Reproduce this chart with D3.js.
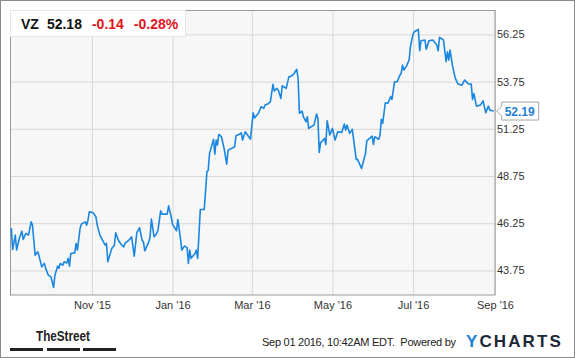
<!DOCTYPE html>
<html>
<head>
<meta charset="utf-8">
<script src="https://cdn.jsdelivr.net/npm/d3@7"></script>
<style>
  body { margin: 0; background: #fff; }
  svg { display: block; font-family: "Liberation Sans", Arial, sans-serif; }
</style>
</head>
<body>
<svg id="chart" width="575" height="358"></svg>
<script>
const dates = [
  '2015-09-01','2015-09-02','2015-09-04','2015-09-05','2015-09-07','2015-09-09','2015-09-10','2015-09-12',
  '2015-09-14','2015-09-16','2015-09-17','2015-09-19','2015-09-21','2015-09-22','2015-09-24','2015-09-26',
  '2015-09-27','2015-09-29','2015-10-01','2015-10-03','2015-10-04','2015-10-06','2015-10-07','2015-10-08',
  '2015-10-10','2015-10-11','2015-10-13','2015-10-14','2015-10-15','2015-10-16','2015-10-19','2015-10-20',
  '2015-10-21','2015-10-23','2015-10-24','2015-10-27','2015-10-28','2015-10-29','2015-10-30','2015-11-02',
  '2015-11-04','2015-11-05','2015-11-07','2015-11-09','2015-11-11','2015-11-12','2015-11-13','2015-11-16',
  '2015-11-18','2015-11-19','2015-11-21','2015-11-23','2015-11-25','2015-11-26','2015-11-29','2015-12-01',
  '2015-12-03','2015-12-05','2015-12-07','2015-12-09','2015-12-10','2015-12-11','2015-12-14','2015-12-15',
  '2015-12-16','2015-12-18','2015-12-20','2015-12-21','2015-12-23','2015-12-24','2015-12-28','2015-12-29',
  '2015-12-31','2016-01-01','2016-01-03','2016-01-04','2016-01-05','2016-01-07','2016-01-08','2016-01-10',
  '2016-01-12','2016-01-13','2016-01-14','2016-01-15','2016-01-18','2016-01-19','2016-01-20','2016-01-22',
  '2016-01-25','2016-01-27','2016-01-28','2016-01-29','2016-02-01','2016-02-02','2016-02-03','2016-02-04',
  '2016-02-05','2016-02-07','2016-02-09','2016-02-11','2016-02-12','2016-02-16','2016-02-17','2016-02-18',
  '2016-02-21','2016-02-22','2016-02-23','2016-02-25','2016-02-29','2016-03-02','2016-03-03','2016-03-06',
  '2016-03-08','2016-03-10','2016-03-11','2016-03-13','2016-03-15','2016-03-17','2016-03-18','2016-03-20',
  '2016-03-21','2016-03-23','2016-03-24','2016-03-27','2016-03-29','2016-03-31','2016-04-02','2016-04-04',
  '2016-04-05','2016-04-06','2016-04-08','2016-04-09','2016-04-11','2016-04-12','2016-04-13','2016-04-17',
  '2016-04-19','2016-04-20','2016-04-21','2016-04-22','2016-04-25','2016-04-26','2016-04-27','2016-04-29',
  '2016-05-01','2016-05-03','2016-05-05','2016-05-08','2016-05-10','2016-05-11','2016-05-12','2016-05-14',
  '2016-05-16','2016-05-19','2016-05-20','2016-05-23','2016-05-26','2016-05-27','2016-05-31','2016-06-01',
  '2016-06-02','2016-06-05','2016-06-06','2016-06-07','2016-06-08','2016-06-10','2016-06-12','2016-06-14',
  '2016-06-15','2016-06-17','2016-06-19','2016-06-21','2016-06-22','2016-06-23','2016-06-24','2016-06-26',
  '2016-06-28','2016-06-29','2016-07-01','2016-07-02','2016-07-05','2016-07-06','2016-07-07','2016-07-10',
  '2016-07-11','2016-07-13','2016-07-16','2016-07-19','2016-07-20','2016-07-21','2016-07-24','2016-07-26',
  '2016-07-27','2016-07-28','2016-07-29','2016-07-31','2016-08-02','2016-08-04','2016-08-07','2016-08-09',
  '2016-08-12','2016-08-14','2016-08-15','2016-08-16','2016-08-18','2016-08-21','2016-08-23','2016-08-25',
  '2016-08-27','2016-08-28','2016-08-31'
];

const prices = [
  45.99,44.86,45.62,44.83,45.44,45.83,45.39,45.71,
  45.62,46.32,46.15,44.56,44.74,44.51,43.94,44.12,
  43.86,43.50,43.41,42.85,43.50,43.98,43.86,44.12,
  44.03,44.21,44.15,44.39,43.98,44.65,44.68,45.18,
  44.83,45.97,46.20,46.32,46.15,46.41,46.85,46.80,
  46.59,46.15,45.62,45.35,45.09,45.18,44.21,44.91,
  45.09,45.74,45.35,45.14,45.00,45.18,45.35,45.53,
  44.51,45.75,46.01,45.35,45.26,44.79,45.26,45.53,
  46.47,45.53,45.71,45.88,46.91,46.73,46.73,47.17,
  46.59,46.19,45.97,45.85,46.45,45.44,44.83,45.04,
  44.97,44.12,44.83,44.39,44.65,44.83,44.39,46.98,
  46.98,48.97,49.06,49.95,50.69,49.91,50.65,50.39,
  50.95,50.83,50.21,49.38,50.12,50.26,50.30,50.88,
  50.97,51.04,50.65,51.09,50.70,52.10,51.82,52.07,
  52.42,52.33,52.51,52.56,52.68,53.60,53.25,53.39,
  53.30,52.86,53.53,53.39,54.00,54.04,54.18,54.40,
  53.92,52.07,52.19,51.89,51.62,51.89,51.27,51.45,
  52.03,51.80,50.00,50.51,50.74,50.42,51.67,50.92,
  51.27,50.65,51.09,51.06,51.50,51.18,51.45,51.01,
  51.22,49.63,49.63,49.15,49.95,50.61,50.86,50.42,
  50.83,50.69,50.92,51.75,51.54,52.63,52.60,52.95,
  52.81,53.74,53.74,54.09,54.18,54.62,54.36,54.57,
  54.89,55.59,56.26,56.39,56.51,55.38,55.91,55.95,
  55.46,55.91,55.95,55.68,55.38,56.09,55.95,54.80,
  55.33,54.89,55.42,54.53,53.92,53.62,53.56,53.83,
  53.62,53.62,52.81,53.12,52.45,52.51,52.73,52.10,
  52.45,52.24,52.19
];

const yTicks = [43.75, 46.25, 48.75, 51.25, 53.75, 56.25];
const xTicks = ['2015-11-01', '2016-01-01', '2016-03-01', '2016-05-01', '2016-07-01', '2016-09-01'];

const ticker = 'VZ', lastPrice = '52.18', change = '-0.14', changePct = '-0.28%';
const lastLabel = '52.19';
const stamp = 'Sep 01 2016, 10:42AM EDT.  Powered by';

const parse = d3.timeParse('%Y-%m-%d');
const series = dates.map((d, i) => [parse(d), prices[i]]);

const svg = d3.select('#chart'),
    margin = {top: 10, right: 80, bottom: 63, left: 10},
    width = 575 - margin.left - margin.right,
    height = 358 - margin.top - margin.bottom;

// outer frame
svg.append('rect')
  .attr('x', 0.5).attr('y', 0.5)
  .attr('width', 574).attr('height', 357)
  .attr('fill', '#fff')
  .attr('stroke', '#8a8a8a');

const g = svg.append('g').attr('transform', `translate(${margin.left},${margin.top})`);

const x = d3.scaleTime()
  .domain([parse('2015-08-31'), parse('2016-09-01')])
  .range([0, width]);

const y = d3.scaleLinear()
  .domain([42.45, 57.54])
  .range([height, 0]);

g.append('rect')
  .attr('width', width).attr('height', height)
  .attr('fill', '#f7f7f7');

// grid
g.append('g')
  .call(d3.axisLeft(y).tickValues(yTicks).tickSize(-width).tickFormat(''))
  .call(a => a.select('.domain').remove())
  .selectAll('line').attr('stroke', '#d8d8d8');

g.append('g')
  .attr('transform', `translate(0,${height})`)
  .call(d3.axisBottom(x).tickValues(xTicks.map(parse)).tickSize(-height).tickFormat(''))
  .call(a => a.select('.domain').remove())
  .selectAll('line').attr('stroke', '#d8d8d8');

// axis labels
g.append('g')
  .attr('transform', `translate(${width},0)`)
  .call(d3.axisRight(y).tickValues(yTicks).tickSize(0).tickPadding(2).tickFormat(d3.format('.2f')))
  .call(a => a.select('.domain').remove())
  .selectAll('text')
  .attr('font-family', '"Liberation Sans", Arial, sans-serif')
  .attr('font-size', 11)
  .attr('fill', '#333');

g.append('g')
  .attr('transform', `translate(0,${height})`)
  .call(d3.axisBottom(x).tickValues(xTicks.map(parse)).tickSize(0).tickPadding(6).tickFormat(d3.timeFormat("%b '%y")))
  .call(a => a.select('.domain').remove())
  .selectAll('text')
  .attr('font-family', '"Liberation Sans", Arial, sans-serif')
  .attr('font-size', 11)
  .attr('fill', '#333');

// plot frame
g.append('rect')
  .attr('x', 0.5).attr('y', 0.5)
  .attr('width', width - 0.5).attr('height', height - 0.5)
  .attr('fill', 'none')
  .attr('stroke', '#999');

const line = d3.line()
  .x(d => x(d[0]))
  .y(d => y(d[1]));

g.append('path')
  .datum(series)
  .attr('fill', 'none')
  .attr('stroke', '#1a86e0')
  .attr('stroke-width', 1.6)
  .attr('stroke-linejoin', 'round')
  .attr('d', line);

// header box
g.append('rect')
  .attr('x', 0.5).attr('y', 0.5)
  .attr('width', 175).attr('height', 26)
  .attr('fill', '#fff')
  .attr('stroke', '#e6e6e6');

const head = g.append('text')
  .attr('x', 11).attr('y', 19)
  .attr('font-size', 14)
  .attr('font-weight', 'bold');
head.append('tspan').attr('fill', '#111').text(ticker);
head.append('tspan').attr('dx', 8).attr('fill', '#111').text(lastPrice);
head.append('tspan').attr('dx', 10).attr('fill', '#e3141b').text(change);
head.append('tspan').attr('dx', 10).attr('fill', '#e3141b').text(changePct);

// last value callout
const last = series[series.length - 1];
const tx = x(last[0]) + 3, ty = y(last[1]);
g.append('path')
  .attr('d', `M${tx},${ty} L${tx + 5},${ty - 5} V${ty - 9} H${tx + 42} V${ty + 9} H${tx + 5} V${ty + 5} Z`)
  .attr('fill', '#fff')
  .attr('stroke', '#a8a8a8');
g.append('text')
  .attr('x', tx + 8).attr('y', ty + 4.5)
  .attr('font-size', 12)
  .attr('font-weight', 'bold')
  .attr('fill', '#1f7fd6')
  .text(lastLabel);

// footer
svg.append('text')
  .attr('x', 36).attr('y', 341)
  .attr('font-family', '"Liberation Sans Narrow", "Liberation Sans", Arial, sans-serif')
  .attr('font-size', 15)
  .attr('font-weight', 'bold')
  .attr('fill', '#222')
  .attr('textLength', 54)
  .attr('lengthAdjust', 'spacingAndGlyphs')
  .text('TheStreet');

svg.selectAll('.bar')
  .data([10, 47, 83])
  .enter().append('rect')
  .attr('x', d => d).attr('y', 348)
  .attr('width', 33).attr('height', 3)
  .attr('fill', '#222');

svg.append('text')
  .attr('x', 262).attr('y', 346)
  .attr('font-size', 11)
  .attr('fill', '#222')
  .attr('xml:space', 'preserve')
  .attr('textLength', 194)
  .text(stamp);

const yc = svg.append('text')
  .attr('x', 466).attr('y', 347)
  .attr('font-size', 17)
  .attr('font-weight', 'bold')
  .attr('letter-spacing', 2.1);
yc.append('tspan').attr('fill', '#1a7fd4').text('Y');
yc.append('tspan').attr('fill', '#1c2838').text('CHARTS');
</script>
</body>
</html>
